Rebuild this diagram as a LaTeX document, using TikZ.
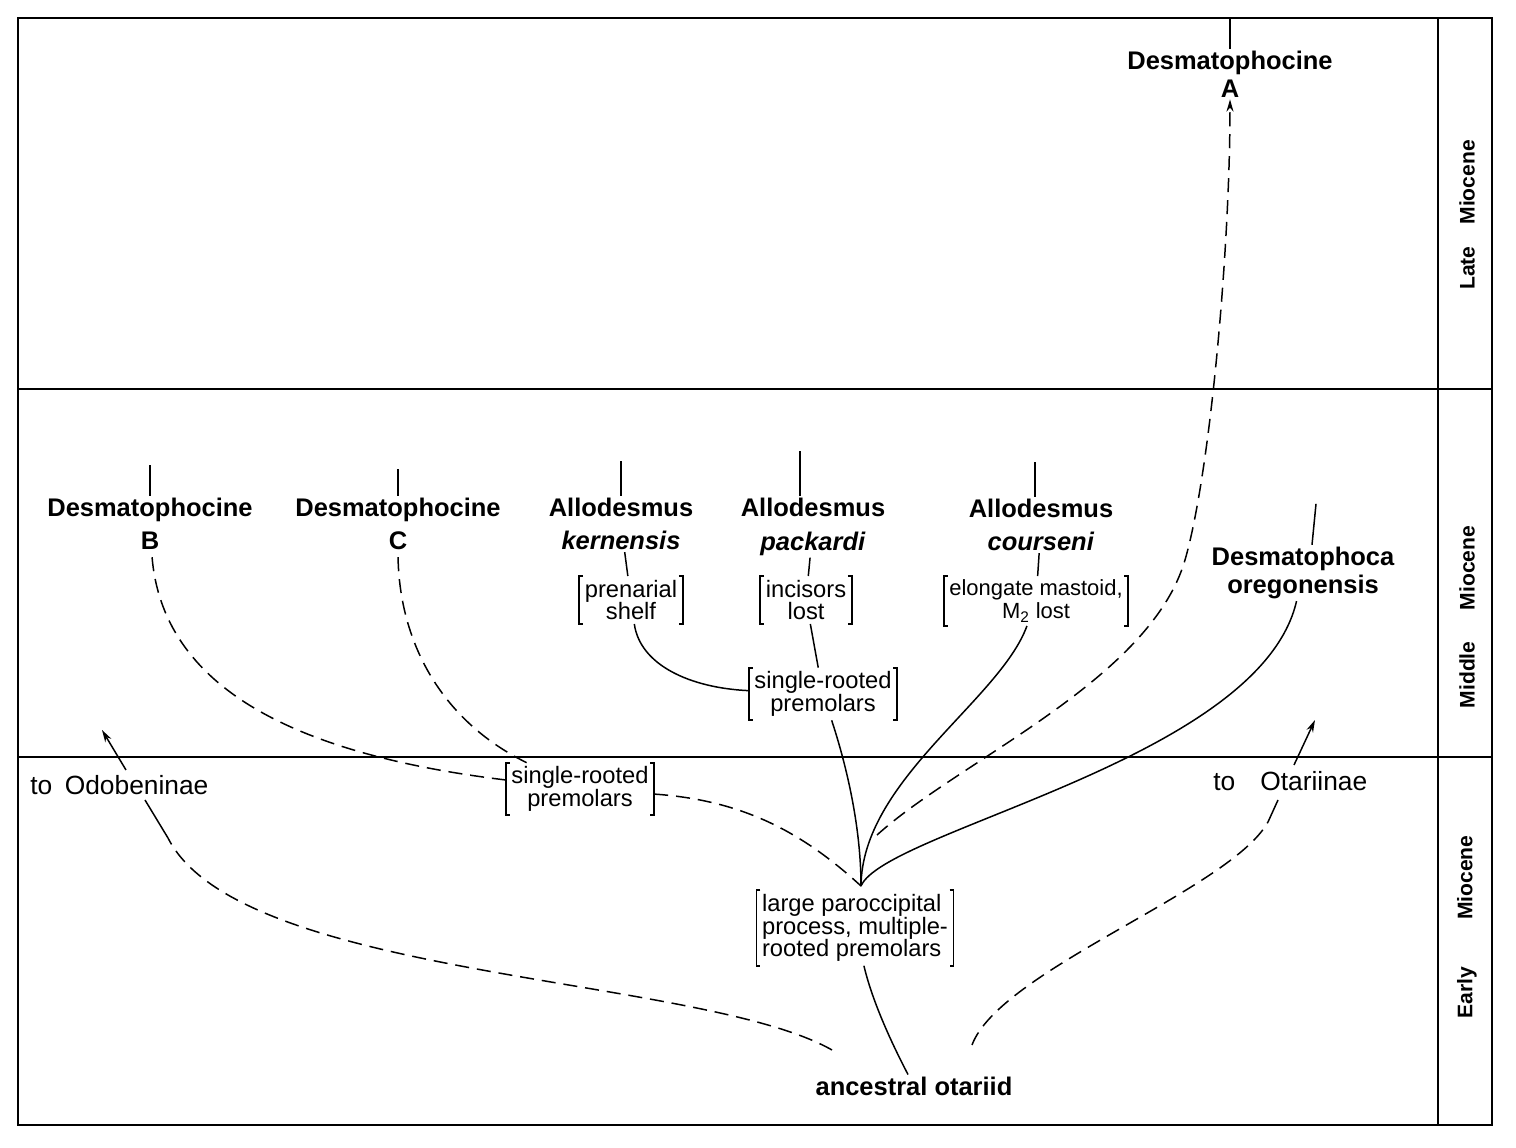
\documentclass[tikz,border=0pt]{standalone}
\usepackage{fontspec}
\setmainfont{Liberation Sans}
\usetikzlibrary{arrows.meta}

\tikzset{
  taxon/.style={font=\fontsize{14.5}{19}\selectfont\bfseries, align=center, inner sep=1pt},
  trait/.style={font=\fontsize{13.5}{13}\selectfont, align=center, inner xsep=3pt, inner ysep=2pt},
  epoch/.style={font=\fontsize{12}{12}\selectfont\bfseries, rotate=90, inner sep=0pt},
  lineage/.style={line width=0.85pt},
  guess/.style={line width=0.85pt, dash pattern=on 8pt off 4.5pt},
  frame/.style={line width=1.4pt},
  zone/.style={line width=1pt},
  bracket/.style={line width=1pt},
  tip/.style={-{Stealth[length=7pt, width=4pt]}},
}

\begin{document}
\begin{tikzpicture}[x=0.02cm, y=-0.02cm]
	\useasboundingbox (0,0) rectangle (1516,1148);
	% Frame and epochs:
	\coordinate (tl) at (18,18);
	\coordinate (br) at (1492,1125);
	\draw[frame] (tl) rectangle (br);
	\draw[frame] (1438,18) -- (1438,1125);
	\draw[zone] (18,389) -- (1492,389);
	\draw[zone] (18,757) -- (1492,757);
	\node[epoch] (late) at (1467,215) {Late\hspace{0.44cm}Miocene};
	\node[epoch] (middle) at (1467,617) {Middle\hspace{0.63cm}Miocene};
	\node[epoch] (early) at (1467,927) {Early\hspace{0.94cm}Miocene};

	% Taxa:
	\node[taxon, font=\fontsize{14.5}{16}\selectfont\bfseries] (dA) at (1230,74) {Desmatophocine\\A};
	\node[taxon] (dB) at (150,524) {Desmatophocine\\B};
	\node[taxon] (dC) at (398,524) {Desmatophocine\\C};
	\node[taxon] (aK) at (621,524) {Allodesmus\\\textit{kernensis}};
	\node[taxon] (aP) at (813,527) {Allodesmus\\\textit{packardi}};
	\node[taxon] (aC) at (1041,525) {Allodesmus\\\textit{courseni}};
	\node[taxon, font=\fontsize{14.5}{16}\selectfont\bfseries] (dO) at (1303,573) {Desmatophoca\\oregonensis};
	\node[taxon] (anc) at (914,1086) {ancestral otariid};
	\node[anchor=west, inner sep=0pt, font=\fontsize{15}{15}\selectfont] (odo) at (30,785) {to\hspace{0.25cm}Odobeninae};
	\node[anchor=west, inner sep=0pt, font=\fontsize{15}{15}\selectfont] (ota) at (1213,781) {to\hspace{0.5cm}Otariinae};

	% Characters:
	\node[trait] (shelf) at (631,600) {prenarial\\shelf};
	\node[trait] (lost) at (806,600) {incisors\\lost};
	\node[trait, font=\fontsize{12.5}{13}\selectfont] (mast) at (1036,601) {elongate mastoid,\\M\textsubscript{2} lost};
	\node[trait] (srpU) at (823,694) {single-rooted\\premolars};
	\node[trait] (srpL) at (580,789) {single-rooted\\premolars};
	\node[trait, align=left] (large) at (855,928) {large paroccipital\\process, multiple-\\rooted premolars};
	\foreach \b in {shelf,lost,mast,srpU,srpL,large}{
		\draw[bracket] (\b.north west) ++(4,0) -| (\b.south west) -- ++(4,0);
		\draw[bracket] (\b.north east) ++(-4,0) -| (\b.south east) -- ++(-4,0);
	}

	% Ticks:
	\draw[lineage] (dA.north) -- (dA.north |- tl);
	\draw[lineage] (dB.north) -- ++(0,-31);
	\draw[lineage] (dC.north) -- ++(0,-27);
	\draw[lineage] (aK.north) -- ++(0,-35);
	\draw[lineage] (aP.north) ++(-13,0) -- ++(0,-45);
	\draw[lineage] (aC.north) ++(-6,0) -- ++(0,-35);
	\draw[lineage] (dO.north) ++(9,0) -- ++(4,-41);
	\draw[lineage] (aK) -- (shelf);
	\draw[lineage] (aP) -- (lost);
	\draw[lineage] (aC) -- (mast);

	% Lineages:
	\coordinate (fork) at (861,886);
	\coordinate (dstart) at (877,835);
	\coordinate (odoS) at (832,1050);
	\coordinate (odoE) at (168,838);
	\coordinate (odoC) at (145,800);
	\coordinate (odoB) at (126,770);
	\coordinate (odoA) at (102,730);
	\coordinate (otaS) at (972,1045);
	\coordinate (otaE) at (1268,822);
	\coordinate (otaC) at (1278,800);
	\coordinate (otaB) at (1294,765);
	\coordinate (otaA) at (1315,720);
	\draw[lineage] (shelf) .. controls (640,665) and (690,688) .. (srpU);
	\draw[lineage] (lost) -- (srpU);
	\draw[lineage] (srpU) .. controls (848,770) and (861,830) .. (fork);
	\draw[lineage] (fork) .. controls (862,780) and (1000,700) .. (mast);
	\draw[lineage] (fork) .. controls (885,830) and (1260,760) .. (dO);
	\draw[guess, tip] (dstart) .. controls (960,760) and (1150,680) .. (1185,560) .. controls (1210,474) and (1230,250) .. (dA);
	\draw[guess] (srpL) .. controls (740,800) and (800,830) .. (fork);
	\draw[guess] (srpL) .. controls (300,755) and (160,690) .. (dB);
	\draw[guess] (srpL) .. controls (440,720) and (398,640) .. (dC);
	\draw[lineage] (large) .. controls (872,1000) and (890,1040) .. (anc);
	\draw[guess] (odoS) .. controls (700,975) and (240,980) .. (odoE);
	\draw[lineage] (odoE) -- (odoC);
	\draw[lineage, tip] (odoB) -- (odoA);
	\draw[guess] (otaS) .. controls (1000,970) and (1230,890) .. (otaE);
	\draw[lineage] (otaE) -- (otaC);
	\draw[lineage, tip] (otaB) -- (otaA);
\end{tikzpicture}
\end{document}
